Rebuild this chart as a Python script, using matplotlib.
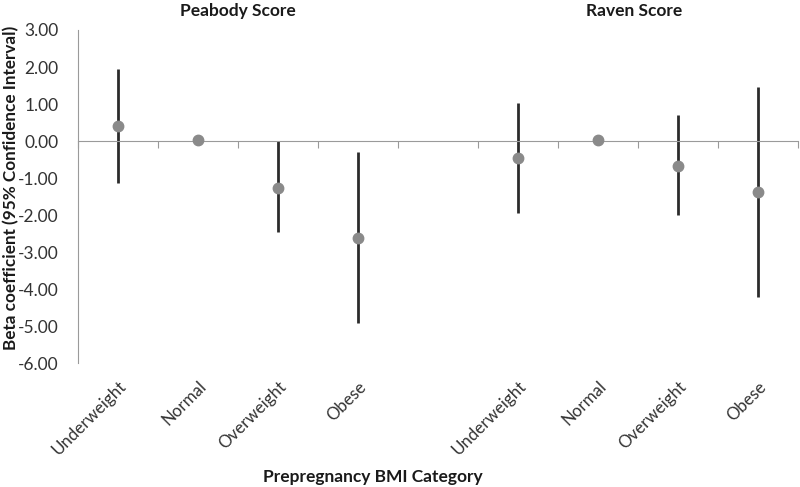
import numpy as np
import matplotlib.pyplot as plt

plt.rcParams['font.family'] = ['Lato', 'DejaVu Sans']

# data
categories = ["Underweight", "Normal", "Overweight", "Obese"]
peabody_beta = [0.40, 0.02, -1.27, -2.62]
peabody_low = [-1.14, 0.02, -2.46, -4.92]
peabody_high = [1.95, 0.02, 0.00, -0.30]
raven_beta = [-0.45, 0.02, -0.67, -1.39]
raven_low = [-1.95, 0.02, -2.00, -4.22]
raven_high = [1.03, 0.02, 0.70, 1.45]

fig = plt.figure(figsize=(8, 4.87), dpi=100)
ax = fig.add_axes([0.0975, 0.2546, 0.9, 0.6838])

pos_p = np.arange(1, 5)
pos_r = np.arange(6, 10)

for pos, beta, lo, hi in [(pos_p, peabody_beta, peabody_low, peabody_high),
                          (pos_r, raven_beta, raven_low, raven_high)]:
    ax.vlines(pos, lo, hi, color='#2b2b2b', linewidth=2, zorder=2)
    ax.plot(pos, beta, 'o', color='#8a8a8a', markersize=7.5, zorder=3)

ax.set_xlim(0.5, 9.5)
ax.set_ylim(-6, 3)
ax.set_yticks(np.arange(-6, 4, 1))
ax.set_yticklabels([f"{v:.2f}" for v in np.arange(-6, 4, 1)])
ax.tick_params(axis='y', length=0, labelsize=12.5, labelcolor='#333333', pad=14)

# category axis crosses at zero with boundary tick marks
ax.spines['bottom'].set_position(('data', 0))
ax.spines['bottom'].set_color('#9a9a9a')
ax.spines['left'].set_color('#9a9a9a')
ax.spines['top'].set_visible(False)
ax.spines['right'].set_visible(False)
ax.set_xticks(np.arange(0.5, 10, 1))
ax.tick_params(axis='x', direction='out', length=5, color='#9a9a9a', labelbottom=False)

# labels at the bottom of the plot area
sec = ax.secondary_xaxis(0.0)
sec.set_xticks(list(pos_p) + list(pos_r))
sec.set_xticklabels(categories + categories, rotation=45, ha='right',
                    rotation_mode='anchor', fontsize=12.2, color='#333333')
sec.tick_params(length=0, pad=11)
sec.spines['bottom'].set_visible(False)

ax.text(2.5, 3.3, "Peabody Score", ha='center', va='bottom',
        fontsize=12.5, fontweight='bold', color='#1a1a1a')
ax.text(7.45, 3.3, "Raven Score", ha='center', va='bottom',
        fontsize=12.5, fontweight='bold', color='#1a1a1a')

fig.text(0.466, 0.005, "Prepregnancy BMI Category", ha='center', va='bottom',
         fontsize=12.5, fontweight='bold', color='#1a1a1a')
fig.text(0.004, 0.614, "Beta coefficient (95% Confidence Interval)", rotation=90,
         ha='left', va='center', fontsize=12.3, fontweight='bold', color='#1a1a1a')

fig.savefig("out.png", dpi=100, facecolor='white')
